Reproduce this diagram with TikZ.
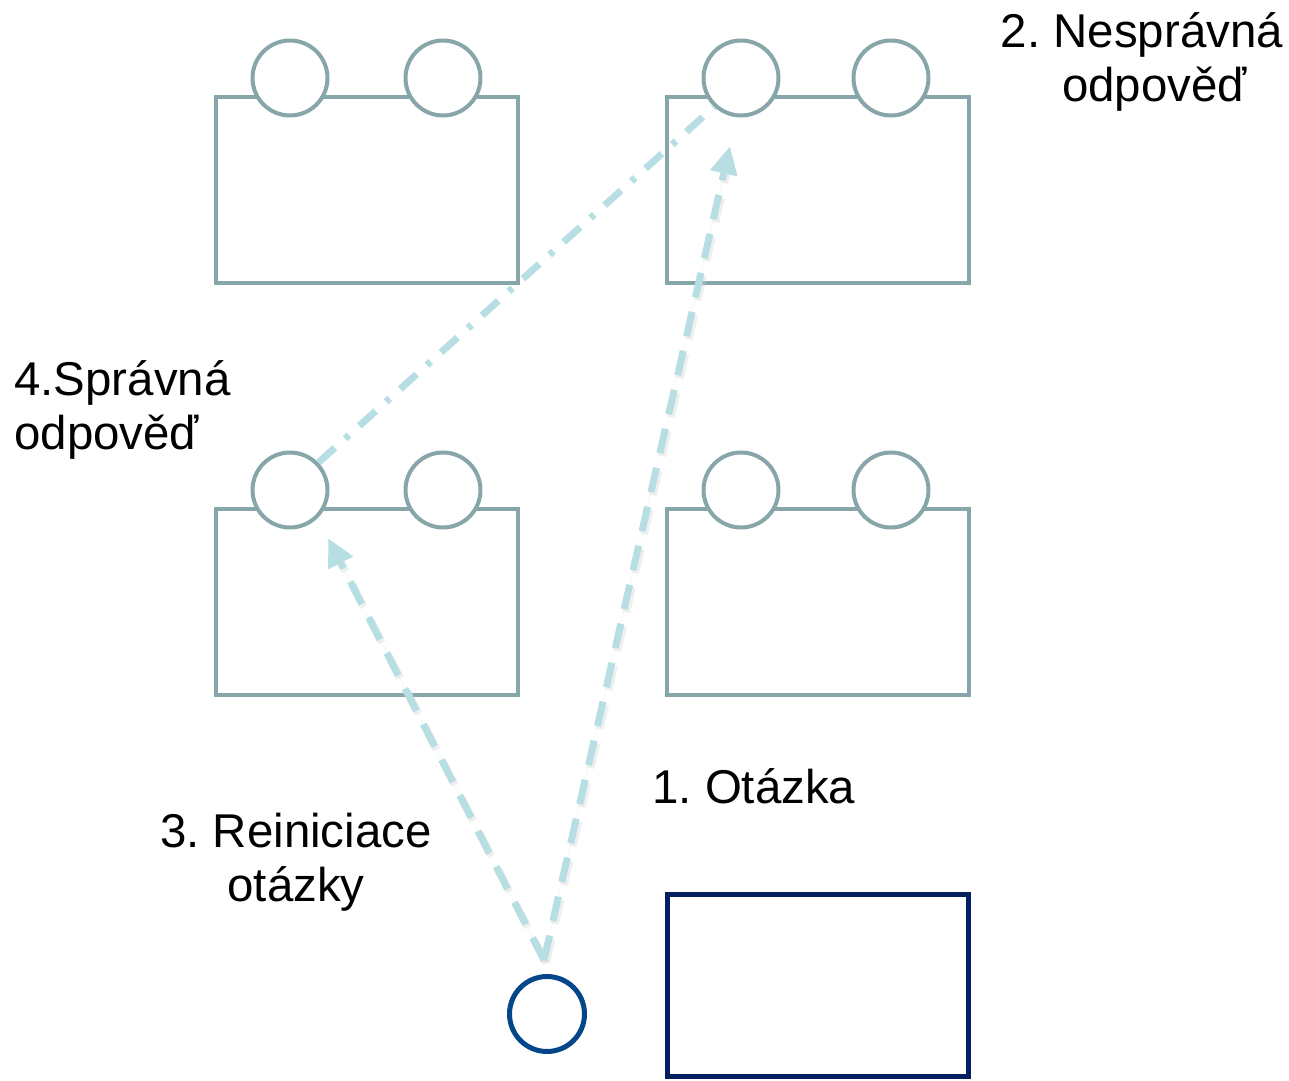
\documentclass[tikz,border=0pt]{standalone}
\usepackage{fontspec}
\setmainfont{Liberation Sans}
\usetikzlibrary{arrows.meta}
\frenchspacing
\definecolor{boxgray}{RGB}{135,166,169}
\definecolor{arrcyan}{RGB}{183,223,227}
\definecolor{navycirc}{RGB}{5,70,138}
\definecolor{navyrect}{RGB}{2,32,96}
\tikzset{
  desk/.style={draw=boxgray, line width=0.08cm, minimum width=6.04cm, minimum height=3.74cm, inner sep=0pt},
  seat/.style={circle, draw=boxgray, fill=white, line width=0.08cm, minimum size=1.5cm, inner sep=0pt},
  flow/.style={arrcyan, line width=0.14cm, dash pattern=on 0.5cm off 0.3cm},
  flowshadow/.style={black!18, opacity=0.35, line width=0.16cm, dash pattern=on 0.5cm off 0.3cm},
  dotflow/.style={arrcyan, line width=0.14cm, dash pattern=on 0.44cm off 0.28cm on 0.1cm off 0.28cm},
  tip/.style={-{Triangle[length=0.56cm,width=0.52cm]}},
  lbl/.style={font=\fontsize{27}{31}\selectfont, inner sep=0pt, text=black}
}
\begin{document}
\begin{tikzpicture}[x=0.02cm, y=-0.02cm]
\useasboundingbox (0,0) rectangle (1289,1081);
% desks
\node[desk] (d1) at (367,190) {};
\node[desk] (d2) at (818,190) {};
\node[desk] (d3) at (367,602) {};
\node[desk] (d4) at (818,602) {};
% seats
\node[seat] (s1a) at (290,78) {};
\node[seat] (s1b) at (443,78) {};
\node[seat] (s2a) at (741,78) {};
\node[seat] (s2b) at (891,78) {};
\node[seat] (s3a) at (290,490) {};
\node[seat] (s3b) at (443,490) {};
\node[seat] (s4a) at (741,490) {};
\node[seat] (s4b) at (891,490) {};
% teacher
\node[circle, draw=navycirc, line width=0.1cm, minimum size=1.5cm, inner sep=0pt] (q) at (547,1014) {};
\node[draw=navyrect, line width=0.1cm, minimum width=6.04cm, minimum height=3.66cm, inner sep=0pt] (tdesk) at (818,985.5) {};
% connector endpoints
\coordinate (start) at (544,960);
\coordinate (t1) at (730,146);
\coordinate (t3) at (328,538);
% shadows
\draw[flowshadow] ([shift={(2,3)}]start) -- ([shift={(2,3)}]t1);
\draw[flowshadow] ([shift={(2,3)}]start) -- ([shift={(2,3)}]t3);
% flows
\draw[flow, tip, fill=arrcyan] (start) -- (t1);
\draw[flow, tip, fill=arrcyan] (start) -- (t3);
\draw[dotflow] (s3a.44) -- (s2a.227);
% labels
\node[lbl, align=center] (l2) at (1142,62) {2. Nesprávná\\\hspace*{0.5cm}odpověď};
\node[lbl, align=left, anchor=west] (l4) at (14,410) {4.Správná\\odpověď};
\node[lbl, anchor=base west] (l1) at (652,803) {1. Otázka};
\node[lbl, align=center] (l3) at (296,862) {3. Reiniciace\\otázky};
\end{tikzpicture}
\end{document}
